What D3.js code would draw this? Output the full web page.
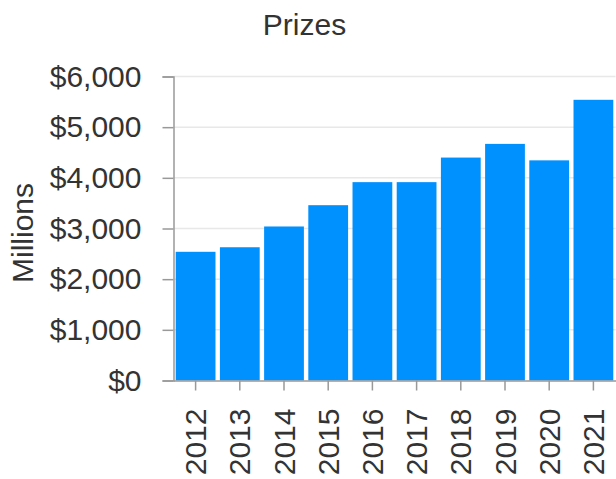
<!DOCTYPE html>
<html>
<head>
<meta charset="utf-8">
<script src="https://cdn.jsdelivr.net/npm/d3@7"></script>
<style>
  html, body { margin: 0; padding: 0; background: #fff; }
  svg { display: block; font-family: "Liberation Sans", Arial, sans-serif; }
</style>
</head>
<body>
<svg id="chart" width="616" height="479"></svg>
<script>
const title = "Prizes";
const yAxisLabel = "Millions";
const categories = ["2012","2013","2014","2015","2016","2017","2018","2019","2020","2021"];
const prizes = [2540, 2630, 3040, 3460, 3915, 3915, 4400, 4670, 4345, 5540];
const yTicks = [0, 1000, 2000, 3000, 4000, 5000, 6000];

const svg = d3.select("#chart");
const plotLeft = 173.5, plotRight = 615.5, plotTop = 76.5, plotBottom = 380.5;
const textColor = "#333";
const axisColor = "#999";

const x = d3.scaleBand().domain(categories).range([plotLeft, plotRight])
  .paddingInner(0.1).paddingOuter(0.05);
const y = d3.scaleLinear().domain([0, 6000]).range([plotBottom, plotTop]);

// gridlines
svg.append("g").selectAll("line").data(yTicks.filter(d => d > 0)).join("line")
  .attr("x1", plotLeft).attr("x2", plotRight)
  .attr("y1", d => y(d)).attr("y2", d => y(d))
  .attr("stroke", "#e8e8e8").attr("stroke-width", 1.5);

// bars
svg.append("g").selectAll("rect").data(categories).join("rect")
  .attr("x", d => x(d))
  .attr("width", x.bandwidth())
  .attr("y", (d, i) => y(prizes[i]))
  .attr("height", (d, i) => y(0) - y(prizes[i]))
  .attr("fill", "#0091ff");

// y axis
const fmt = d => "$" + d3.format(",")(d);
const yAxis = svg.append("g").attr("transform", `translate(${plotLeft},0)`)
  .call(d3.axisLeft(y).tickValues(yTicks).tickFormat(fmt).tickSize(11).tickPadding(21));
yAxis.selectAll("path, line").attr("stroke", axisColor).attr("stroke-width", 1.5);
yAxis.selectAll("text").attr("fill", textColor).style("font-size", "30px")
  .style("font-family", "'Liberation Sans', Arial, sans-serif");

// x axis
const xAxis = svg.append("g").attr("transform", `translate(0,${plotBottom})`)
  .call(d3.axisBottom(x).tickSize(10).tickSizeOuter(0));
xAxis.selectAll("path, line").attr("stroke", axisColor).attr("stroke-width", 1.5);
xAxis.selectAll("text")
  .attr("fill", textColor)
  .style("font-size", "30px")
  .style("font-family", "'Liberation Sans', Arial, sans-serif")
  .attr("text-anchor", "end")
  .attr("transform", "rotate(-90)")
  .attr("x", -28)
  .attr("y", 0)
  .attr("dy", "0.35em");

// title
svg.append("text").attr("x", 304.5).attr("y", 35)
  .attr("text-anchor", "middle").attr("fill", textColor)
  .style("font-size", "30px").text(title);

// y axis label
svg.append("text")
  .attr("transform", "translate(33,233) rotate(-90)")
  .attr("text-anchor", "middle").attr("fill", textColor)
  .style("font-size", "30px").text(yAxisLabel);
</script>
</body>
</html>
